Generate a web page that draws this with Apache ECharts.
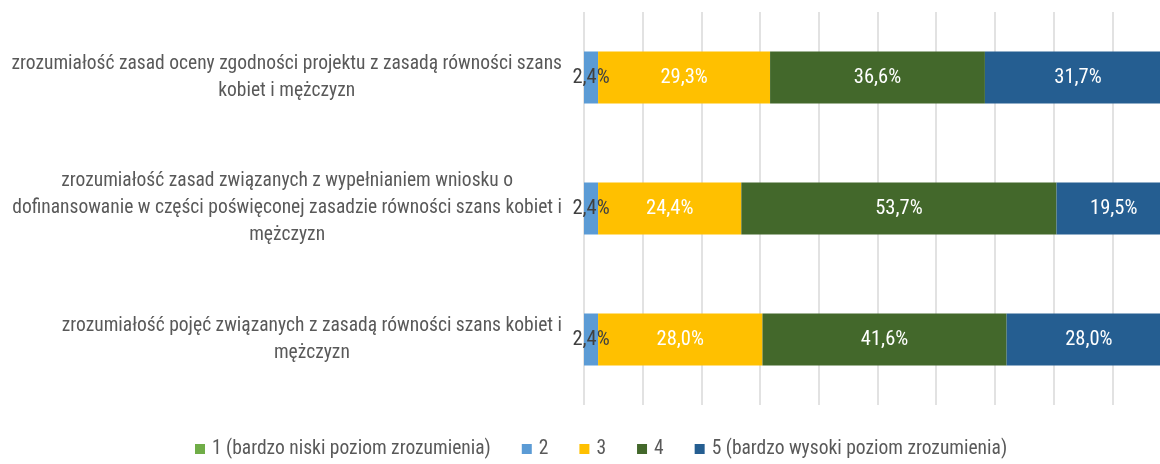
<!DOCTYPE html>
<html>
<head>
<meta charset="utf-8">
<script src="https://cdn.jsdelivr.net/npm/echarts@6/dist/echarts.min.js"></script>
<style>html,body{margin:0;padding:0;background:#fff}#c{width:1160px;height:464px}</style>
</head>
<body>
<div id="c"></div>
<script>
const categories = [
  'zrozumiałość zasad oceny zgodności projektu z zasadą równości szans\nkobiet i mężczyzn',
  'zrozumiałość zasad związanych z wypełnianiem wniosku o\ndofinansowanie w części poświęconej zasadzie równości szans kobiet i\nmężczyzn',
  'zrozumiałość pojęć związanych z zasadą równości szans kobiet i\nmężczyzn'
];
const seriesNames = ['1 (bardzo niski poziom zrozumienia)', '2', '3', '4', '5 (bardzo wysoki poziom zrozumienia)'];
const s1 = [0, 0, 0];
const s2 = [2.4, 2.4, 2.4];
const s3 = [29.3, 24.4, 28.0];
const s4 = [36.6, 53.7, 41.6];
const s5 = [31.7, 19.5, 28.0];
const colors = ['#70AD47', '#5B9BD5', '#FFC000', '#43682B', '#255E91'];
const labelColors = ['#ffffff', '#404040', '#ffffff', '#ffffff', '#ffffff'];
const FONT = '"Roboto Condensed", "DejaVu Sans Condensed", sans-serif';

const allData = [s1, s2, s3, s4, s5];
const chart = echarts.init(document.getElementById('c'));
chart.setOption({
  animation: false,
  color: colors,
  textStyle: { fontFamily: FONT },
  grid: { left: 584, right: -11, top: 12, bottom: 59, containLabel: false, outerBoundsMode: 'none' },
  xAxis: {
    type: 'value', min: 0, max: 100, interval: 10,
    axisLabel: { show: false }, axisLine: { show: false }, axisTick: { show: false },
    splitLine: { show: true, lineStyle: { color: '#D9D9D9', width: 1.5 } }
  },
  yAxis: {
    type: 'category', data: categories, inverse: true,
    axisLine: { show: false }, axisTick: { show: false },
    axisLabel: {
      margin: 22, align: 'right',
      formatter: v => v.split('\n').map(l => '{c|' + l + '}').join('\n'),
      rich: { c: { align: 'center', fontSize: 19.5, lineHeight: 27, color: '#595959', fontFamily: FONT } }
    }
  },
  legend: {
    top: 434, left: 190, itemWidth: 10, itemHeight: 10, itemGap: 31,
    icon: 'rect',
    textStyle: { fontSize: 19.5, color: '#595959', fontFamily: FONT, padding: [0, 0, 0, 2] },
    data: seriesNames
  },
  series: allData.map((d, i) => ({
    name: seriesNames[i], type: 'bar', stack: 'total', data: d,
    barWidth: 52,
    label: {
      show: true, position: 'inside', color: labelColors[i], fontSize: 20.5, fontFamily: FONT,
      formatter: p => p.value ? p.value.toFixed(1).replace('.', ',') + '%' : ''
    }
  }))
});
</script>
</body>
</html>
